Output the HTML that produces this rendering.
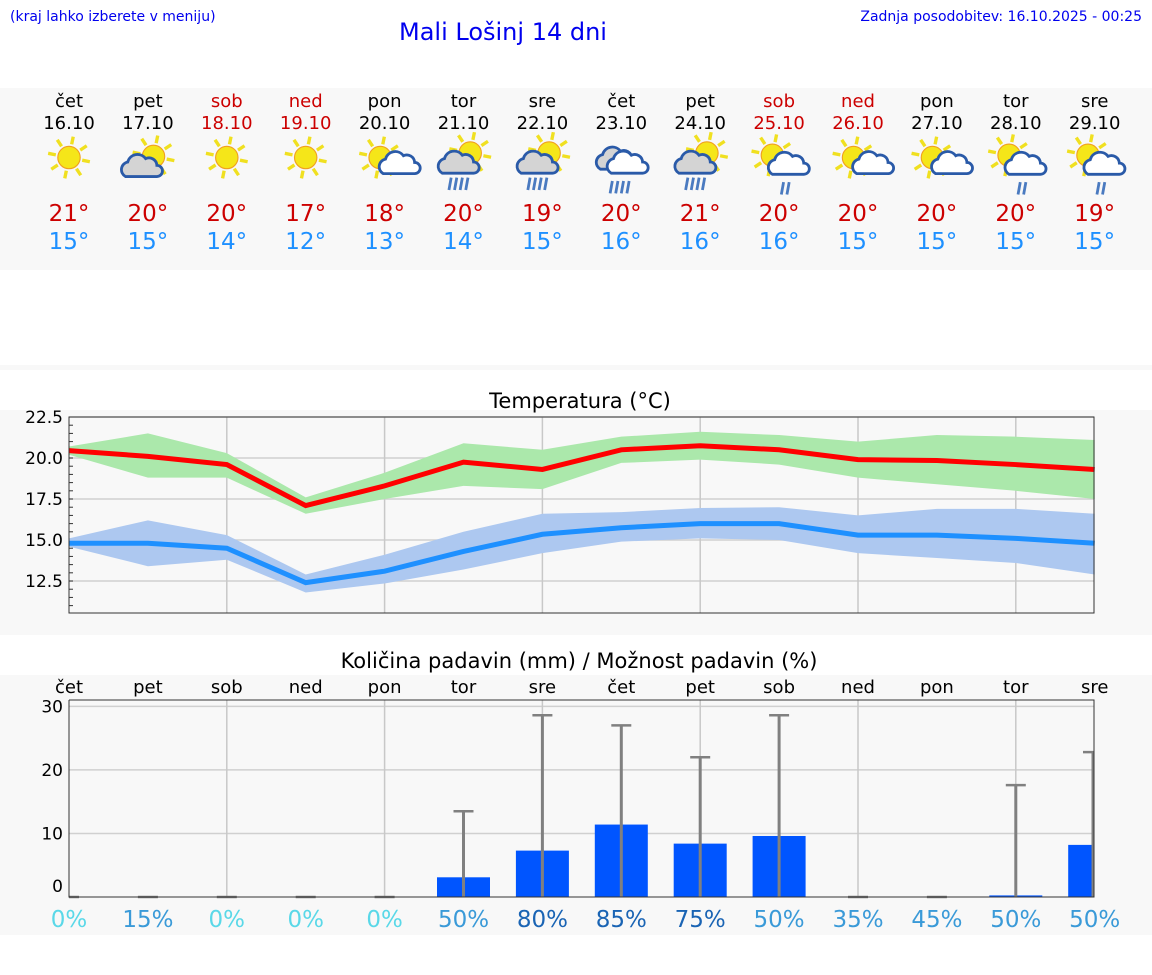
<!DOCTYPE html>
<html><head><meta charset="utf-8"><style>
body{margin:0;width:1152px;height:975px;background:#fff;font-family:"DejaVu Sans","Liberation Sans",sans-serif;overflow:hidden;position:relative}
svg{position:absolute;left:0;top:0}
</style></head><body>
<svg id="s" width="1152" height="975" font-family="DejaVu Sans, Liberation Sans, sans-serif">
<rect x="0" y="88" width="1152" height="182" fill="#f8f8f8"/>
<rect x="0" y="365" width="1152" height="5" fill="#f8f8f8"/>
<rect x="0" y="410" width="1152" height="225" fill="#f8f8f8"/>
<rect x="0" y="675" width="1152" height="260" fill="#f8f8f8"/>
<text x="10" y="21" font-size="14" fill="#0000ee">(kraj lahko izberete v meniju)</text>
<text x="503" y="40" font-size="24" fill="#0000ee" text-anchor="middle">Mali Lošinj 14 dni</text>
<text x="1142" y="21" font-size="14" fill="#0000ee" text-anchor="end">Zadnja posodobitev: 16.10.2025 - 00:25</text>
<text x="580" y="408" font-size="21" text-anchor="middle">Temperatura (°C)</text>
<text x="579" y="668" font-size="21" text-anchor="middle">Količina padavin (mm) / Možnost padavin (%)</text>
<text x="853" y="484" font-size="16" fill="#0000ee" text-anchor="middle">© vreme.us &amp; vreme.pro</text>
<g id="g"></g>
</svg>
<script>
const days=["čet","pet","sob","ned","pon","tor","sre","čet","pet","sob","ned","pon","tor","sre"];
const dates=["16.10","17.10","18.10","19.10","20.10","21.10","22.10","23.10","24.10","25.10","26.10","27.10","28.10","29.10"];
const weekend=[0,0,1,1,0,0,0,0,0,1,1,0,0,0];
const icons=[0,1,0,0,2,3,3,4,3,5,2,2,5,5];
const tmaxRound=[21,20,20,17,18,20,19,20,21,20,20,20,20,19];
const tminRound=[15,15,14,12,13,14,15,16,16,16,15,15,15,15];
const tmax=[20.45,20.1,19.6,17.1,18.3,19.75,19.3,20.5,20.75,20.5,19.9,19.85,19.6,19.3];
const tmaxHi=[20.7,21.5,20.3,17.6,19.1,20.9,20.5,21.3,21.6,21.4,21.0,21.4,21.3,21.1];
const tmaxLo=[20.2,18.8,18.8,16.6,17.5,18.3,18.1,19.7,19.9,19.6,18.8,18.4,18.0,17.5];
const tmin=[14.8,14.8,14.5,12.4,13.1,14.3,15.35,15.75,16.0,16.0,15.3,15.3,15.1,14.8];
const tminHi=[15.1,16.2,15.3,12.9,14.1,15.5,16.6,16.7,16.95,17.0,16.5,16.9,16.9,16.6];
const tminLo=[14.6,13.4,13.8,11.8,12.35,13.2,14.2,14.9,15.1,15.0,14.2,13.9,13.6,12.9];
const tempTicks=["12.5","15.0","17.5","20.0","22.5"];
const precip=[0,0,0,0,0,3.1,7.3,11.4,8.4,9.6,0,0,0.25,8.2];
const precipHi=[0,0,0,0,0,13.5,28.6,27.0,22.0,28.6,0,0,17.6,22.8];
const prob=[0,15,0,0,0,50,80,85,75,50,35,45,50,50];
const precipTicks=[0,10,20,30];

const NS="http://www.w3.org/2000/svg",G=document.getElementById('g');
function el(t,a,p){const e=document.createElementNS(NS,t);for(const k in a)e.setAttribute(k,a[k]);(p||G).appendChild(e);return e;}
const X=i=>69+i*78.9;
const L=69,R=1094;
days.forEach((d,i)=>{
 const c=weekend[i]?"#cc0000":"#000";
 let t=el('text',{x:X(i),y:107,'font-size':18,'text-anchor':'middle',fill:c});t.textContent=d;
 
 
 t=el('text',{x:X(i),y:129,'font-size':18,'text-anchor':'middle',fill:c});t.textContent=dates[i];
 
 
 t=el('text',{x:X(i),y:221,'font-size':23,'text-anchor':'middle',fill:"#cc0000"});t.textContent=tmaxRound[i]+"°";
 
 
 t=el('text',{x:X(i),y:249,'font-size':23,'text-anchor':'middle',fill:"#1e90ff"});t.textContent=tminRound[i]+"°";
 
 
 const g=el('g',{transform:`translate(${X(i)},162) scale(1.12)`});
 
 
 const ty=icons[i];
 const sun=(cx,cy)=>{for(let k=0;k<8;k++){const a=k*Math.PI/4+0.2;el('line',{x1:cx+Math.cos(a)*12,y1:cy+Math.sin(a)*12,x2:cx+Math.cos(a)*19,y2:cy+Math.sin(a)*19,stroke:'#f0e020','stroke-width':3},g);}
  el('circle',{cx,cy,r:10,fill:'#f5e619',stroke:'#f0a020','stroke-width':1},g);};
 const cloud=(cx,cy,s,f)=>{el('path',{d:`M${cx-14*s},${cy+8*s} a7,7 0 0 1 2,-13 a9,9 0 0 1 16,-3 a7,7 0 0 1 10,6 a5,5 0 0 1 0,10 z`,fill:f,stroke:'#2a5aa8','stroke-width':2.5},g);};
 const rain=(cx,cy,n)=>{for(let k=0;k<n;k++)el('line',{x1:cx-6+k*5+2,y1:cy,x2:cx-6+k*5,y2:cy+11,stroke:'#4a7ac0','stroke-width':2.5},g);};
 if(ty===0){sun(0,-4);}
 else if(ty===1){sun(5,-5);cloud(-6,5,1,'#d4d4d4');}
 else if(ty===2){sun(-4,-4);cloud(10,4,0.8,'#fff');}
 else if(ty===3){sun(6,-8);cloud(-5,2,1,'#d4d4d4');rain(-7,14,4);}
 else if(ty===4){cloud(-4,-2,1.05,'#d4d4d4');cloud(5,2,1,'#fff');rain(-4,17,4);}
 else if(ty===5){sun(-6,-6);cloud(8,3,1,'#fff');rain(8,18,2);}
});
const TY0=10.55,TY1=22.5,TT=417,TB=613;
const ty=v=>TB-(v-TY0)/(TY1-TY0)*(TB-TT);
const plot=el('rect',{x:L,y:TT,width:R-L,height:TB-TT,fill:'#f8f8f8'});


tempTicks.forEach(v=>{const y=ty(+v);el('line',{x1:L,x2:R,y1:y,y2:y,stroke:'#d0d0d0','stroke-width':1.5});
 const t=el('text',{x:63,y:y+6,'font-size':17,'text-anchor':'end'});t.textContent=v;
 
 });
for(let v=11;v<=22.5;v+=0.5)el('line',{x1:L,x2:L+4,y1:ty(v),y2:ty(v),stroke:'#333'});
for(let i=2;i<14;i+=2)el('line',{x1:X(i),x2:X(i),y1:TT,y2:TB,stroke:'#c8c8c8','stroke-width':1.5});
const band=(hi,lo,f,n)=>{let d='';hi.forEach((v,i)=>d+=(i?'L':'M')+X(i)+','+ty(v));for(let i=lo.length-1;i>=0;i--)d+='L'+X(i)+','+ty(lo[i]);
 const p=el('path',{d:d+'Z',fill:f});};
band(tmaxHi,tmaxLo,'#abe8ab','max-temp-range');
band(tminHi,tminLo,'#adc8f0','min-temp-range');
const line=(a,c,n)=>{const p=el('polyline',{points:a.map((v,i)=>X(i)+','+ty(v)).join(' '),fill:'none',stroke:c,'stroke-width':5});};
line(tmax,'#ff0000','max-temp-line');
line(tmin,'#1e90ff','min-temp-line');
el('rect',{x:L,y:TT,width:R-L,height:TB-TT,fill:'none',stroke:'#333','stroke-width':1});
const PT=700,PB=897,PMAX=31;
const py=v=>PB-v/PMAX*(PB-PT);
precipTicks.forEach(v=>{const y=py(v);if(v>0)el('line',{x1:L,x2:R,y1:y,y2:y,stroke:'#d0d0d0','stroke-width':1.5});
 const t=el('text',{x:63,y:(v===0?892:y+6),'font-size':17,'text-anchor':'end'});t.textContent=v;
 
 });
for(let i=2;i<14;i+=2)el('line',{x1:X(i),x2:X(i),y1:PT,y2:PB,stroke:'#c8c8c8','stroke-width':1.5});
days.forEach((d,i)=>{
 let t=el('text',{x:X(i),y:693,'font-size':18,'text-anchor':'middle'});t.textContent=d;
 
 
 const w=53,x0=Math.max(L,X(i)-w/2),x1=Math.min(R,X(i)+w/2);
 if(precip[i]>0){const b=el('rect',{x:x0,y:py(precip[i]),width:x1-x0,height:PB-py(precip[i]),fill:'#0055ff'});
  
  }
 const ex=Math.min(X(i),R-1);
 el('line',{x1:ex,x2:ex,y1:py(precipHi[i]),y2:PB,stroke:'#808080','stroke-width':3});
 el('line',{x1:Math.max(L,ex-10),x2:Math.min(R,ex+10),y1:py(precipHi[i]),y2:py(precipHi[i]),stroke:'#808080','stroke-width':2.5});
 const p=prob[i],c=p===0?'#5ad8e8':p>=75?'#1a64b4':'#3a9ad8';
 t=el('text',{x:X(i),y:927,'font-size':23,'text-anchor':'middle',fill:c});t.textContent=p+'%';
 
 
});
el('polyline',{points:`${L},${PT} ${L},${PB} ${R},${PB} ${R},${PT} ${L},${PT}`,fill:'none',stroke:'#333','stroke-width':1});
</script>
</body></html>
